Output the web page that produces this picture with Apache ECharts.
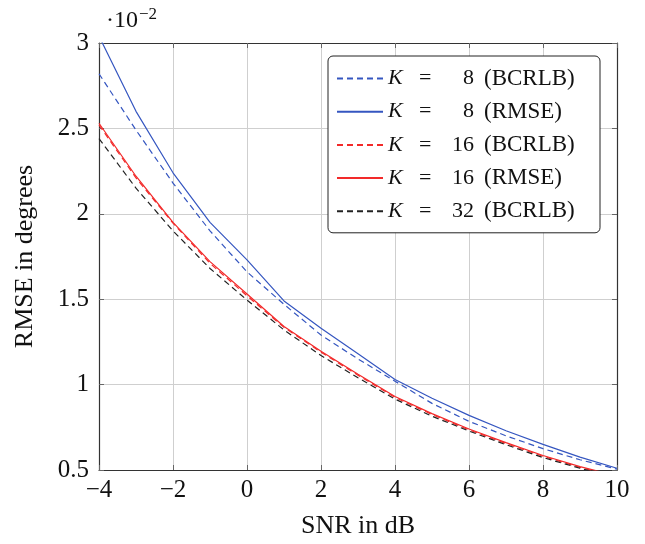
<!DOCTYPE html>
<html><head><meta charset="utf-8">
<script src="https://cdn.jsdelivr.net/npm/echarts@6/dist/echarts.min.js"></script>
<style>html,body{margin:0;padding:0;background:#fff}#c{width:645px;height:544px}</style>
</head><body><div id="c"></div>
<script>
const snr = [-4,-3,-2,-1,0,1,2,3,4,5,6,7,8,9,10];
const k8Bcrlb = [2.82,2.49,2.18,1.90,1.66,1.47,1.29,1.15,1.02,0.89,0.785,0.70,0.625,0.56,0.505];
const k8Rmse  = [3.04,2.60,2.24,1.95,1.73,1.49,1.33,1.18,1.03,0.92,0.82,0.73,0.65,0.575,0.51];
const k16Bcrlb= [2.52,2.21,1.945,1.71,1.52,1.335,1.19,1.055,0.925,0.825,0.735,0.655,0.58,0.515,0.46];
const k16Rmse = [2.53,2.22,1.95,1.72,1.53,1.34,1.195,1.06,0.93,0.83,0.74,0.66,0.585,0.52,0.465];
const k32Bcrlb= [2.44,2.15,1.90,1.68,1.495,1.32,1.17,1.04,0.915,0.815,0.728,0.648,0.573,0.51,0.455];
const seriesNames = ['K8B','K8R','K16B','K16R','K32B'];
const legendK = ['8','8','16','16','32'];
const legendKind = ['(BCRLB)','(RMSE)','(BCRLB)','(RMSE)','(BCRLB)'];
const yTicks = ['0.5','1','1.5','2','2.5','3'];

const FONT = '"Liberation Serif","DejaVu Serif",serif';
const BLUE = '#3556c0', RED = '#f22a2a', BLACK = '#222';
function mk(name, data, color, dashed){
  return {name, type:'line', data: snr.map((x,i)=>[x,data[i]]), symbol:'none', clip:true,
    lineStyle:{color, width:1.2, type: dashed?[6,4]:'solid'}, itemStyle:{color}};
}
const fmtNum = v => (v<0?'\u2212'+(-v):String(v));
const chart = echarts.init(document.getElementById('c'), null, {renderer:'canvas'});
const LF = 22;
const T = (extra)=>Object.assign({fontFamily:FONT,fontSize:LF,color:'#111',lineHeight:22,align:'left'},extra);
chart.setOption({
  animation:false,
  backgroundColor:'#fff',
  grid:{left:99,right:28,top:43,bottom:71,containLabel:false},
  xAxis:[{type:'value',min:-4,max:10,interval:2,
    name:'SNR in dB',nameLocation:'middle',nameGap:43,
    nameTextStyle:{fontFamily:FONT,fontSize:26,color:'#111'},
    axisLine:{onZero:false,lineStyle:{color:'#333',width:1.2}},
    axisTick:{inside:true,length:5,lineStyle:{color:'#666'}},
    axisLabel:{fontFamily:FONT,fontSize:25,color:'#111',margin:8,formatter:fmtNum},
    splitLine:{show:true,lineStyle:{color:'#cfcfcf',width:1}}},
   {type:'value',min:-4,max:10,interval:2,position:'top',
    axisLine:{onZero:false,lineStyle:{color:'#333',width:1.2}},
    axisTick:{inside:true,length:5,lineStyle:{color:'#666'}},
    axisLabel:{show:false},splitLine:{show:false}}],
  yAxis:[{type:'value',min:0.5,max:3,interval:0.5,
    name:'RMSE in degrees',nameLocation:'middle',nameGap:61,
    nameTextStyle:{fontFamily:FONT,fontSize:26,color:'#111'},
    axisLine:{show:true,onZero:false,lineStyle:{color:'#333',width:1.2}},
    axisTick:{show:true,inside:true,length:5,lineStyle:{color:'#666'}},
    axisLabel:{fontFamily:FONT,fontSize:25,color:'#111',margin:10,
      formatter:(v)=>{const i=Math.round((v-0.5)/0.5);return yTicks[i]!==undefined?yTicks[i]:String(v);}},
    splitLine:{show:true,lineStyle:{color:'#cfcfcf',width:1}}},
   {type:'value',min:0.5,max:3,interval:0.5,position:'right',
    axisLine:{show:true,onZero:false,lineStyle:{color:'#333',width:1.2}},
    axisTick:{show:true,inside:true,length:5,lineStyle:{color:'#666'}},
    axisLabel:{show:false},splitLine:{show:false}}],
  legend:{
    data:seriesNames, orient:'vertical', left:328, top:56,
    backgroundColor:'#fff', borderColor:'#222', borderWidth:1, borderRadius:5,
    padding:[11,6,10,8], itemGap:10.2, itemWidth:46, itemHeight:22,
    itemStyle:{opacity:0},
    formatter:(n)=>{const i=seriesNames.indexOf(n);const k=legendK[i];
      return '{i|K}{eq|=}'+(k.length<2?'{n1|'+k+'}':'{n|'+k+'}')+'{p|'+legendKind[i]+'}';},
    textStyle:{fontFamily:FONT,fontSize:LF,color:'#111',lineHeight:22,
      rich:{
        i:T({fontStyle:'italic',width:31}),
        eq:T({width:33}),
        n:T({width:32}),
        n1:T({width:21,padding:[0,0,0,11]}),
        p:T({fontSize:LF+1,width:110})
      }}
  },
  graphic:[{type:'text',left:106,top:6,style:{
    text:'\u00b710{s|\u22122}',font:'24px '+FONT,fill:'#111',
    rich:{s:{fontSize:17,fontFamily:FONT,verticalAlign:'top',padding:[0,0,12,1],fill:'#111'}}}}],
  series:[
    mk('K8B',k8Bcrlb,BLUE,true),
    mk('K8R',k8Rmse,BLUE,false),
    mk('K16B',k16Bcrlb,RED,true),
    mk('K16R',k16Rmse,RED,false),
    mk('K32B',k32Bcrlb,BLACK,true)
  ]
});
</script></body></html>
